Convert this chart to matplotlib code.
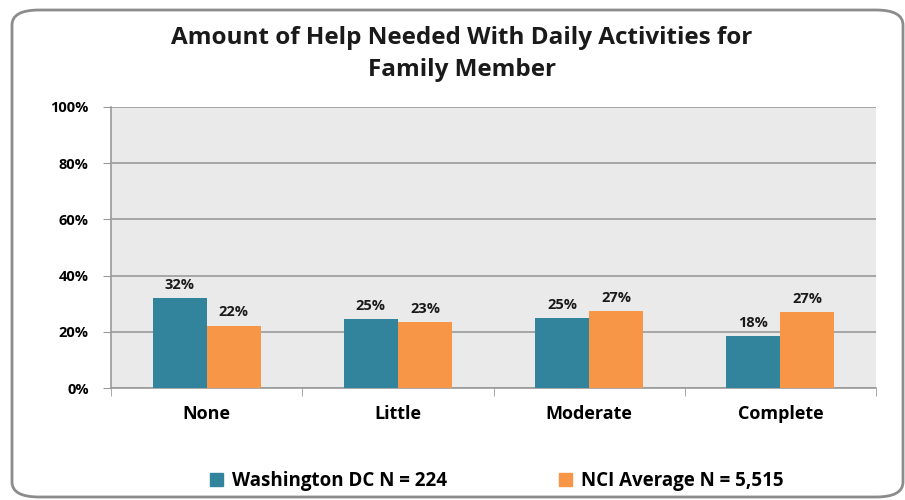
import matplotlib
matplotlib.use("Agg")
import matplotlib.pyplot as plt
import numpy as np
from matplotlib.patches import FancyBboxPatch, Rectangle
from matplotlib import font_manager as fm

categories = ["None", "Little", "Moderate", "Complete"]
dc_values = [32.0, 24.6, 25.0, 18.4]
nci_values = [22.2, 23.4, 27.3, 27.0]
series_names = ["Washington DC N = 224", "NCI Average N = 5,515"]
yticks = [0, 20, 40, 60, 80, 100]

TEAL = "#31849B"
ORANGE = "#F79646"


def pick_bold():
    cands = [f for f in fm.fontManager.ttflist
             if f.name == "Open Sans" and f.style == "normal"
             and str(f.weight) in ("700", "bold")
             and "ondensed" not in f.fname and "emiCond" not in f.fname]
    if cands:
        return cands[0].fname
    return None


bold_file = pick_bold()


def fp(size):
    if bold_file:
        return fm.FontProperties(fname=bold_file, size=size)
    return fm.FontProperties(family=["Lato", "DejaVu Sans"], weight="bold", size=size)


fig = plt.figure(figsize=(9.05, 5.0), dpi=100)
W, H = 905, 500

border = FancyBboxPatch((12 / W, 3 / H), (903 - 12) / W, (490 - 3) / H,
                        boxstyle="round,pad=0,rounding_size=0.03",
                        transform=fig.transFigure, facecolor="white",
                        edgecolor="#8C8C8C", linewidth=2.0, zorder=-10)
fig.patches.append(border)

ax = fig.add_axes([111 / W, 1 - 388 / H, (876 - 111) / W, (388 - 107) / H])
ax.set_zorder(5)
ax.set_facecolor("#EAEAEA")

x = np.arange(len(categories))
bw = 0.283
b1 = ax.bar(x - bw / 2, dc_values, bw, color=TEAL, zorder=3)
b2 = ax.bar(x + bw / 2, nci_values, bw, color=ORANGE, zorder=3)

for rects, vals in ((b1, dc_values), (b2, nci_values)):
    for r, v in zip(rects, vals):
        ax.text(r.get_x() + r.get_width() / 2, v + 2.2, f"{round(v):d}%",
                ha="center", va="bottom", fontproperties=fp(10.5), color="#1a1a1a")

ax.set_xlim(-0.5, len(categories) - 0.5)
ax.set_ylim(0, 100)
ax.set_yticks(yticks)
ax.set_yticklabels([f"{t}%" for t in yticks])
for lab in ax.get_yticklabels():
    lab.set_fontproperties(fp(10.5))
ax.set_xticks(x)
ax.set_xticklabels(categories)
for lab in ax.get_xticklabels():
    lab.set_fontproperties(fp(13))
ax.tick_params(axis="x", length=0, pad=12)
ax.tick_params(axis="y", length=6, color="#9A9A9A", pad=10)
ax.set_xticks(np.arange(-0.5, len(categories) + 0.5, 1), minor=True)
ax.tick_params(axis="x", which="minor", length=6, color="#9A9A9A", direction="out")
ax.yaxis.grid(True, color="#9A9A9A", linewidth=1.2, zorder=1)
ax.set_axisbelow(True)
for s in ["top", "right"]:
    ax.spines[s].set_visible(False)
for s in ["left", "bottom"]:
    ax.spines[s].set_color("#9A9A9A")
    ax.spines[s].set_linewidth(1.2)

fig.text(462 / W, 1 - 38 / H, "Amount of Help Needed With Daily Activities for",
         ha="center", va="center", fontproperties=fp(17.5), color="#1a1a1a")
fig.text(462 / W, 1 - 70 / H, "Family Member",
         ha="center", va="center", fontproperties=fp(17.5), color="#1a1a1a")

handles = [Rectangle((0, 0), 1, 1, color=TEAL), Rectangle((0, 0), 1, 1, color=ORANGE)]
leg = fig.legend(handles, series_names, loc="center", bbox_to_anchor=(497 / W, 1 - 481 / H),
                 ncol=2, frameon=False, handlelength=0.65, handleheight=0.65,
                 handletextpad=0.5, columnspacing=6.0, prop=fp(13.5))

fig.savefig("out.png", dpi=100)
